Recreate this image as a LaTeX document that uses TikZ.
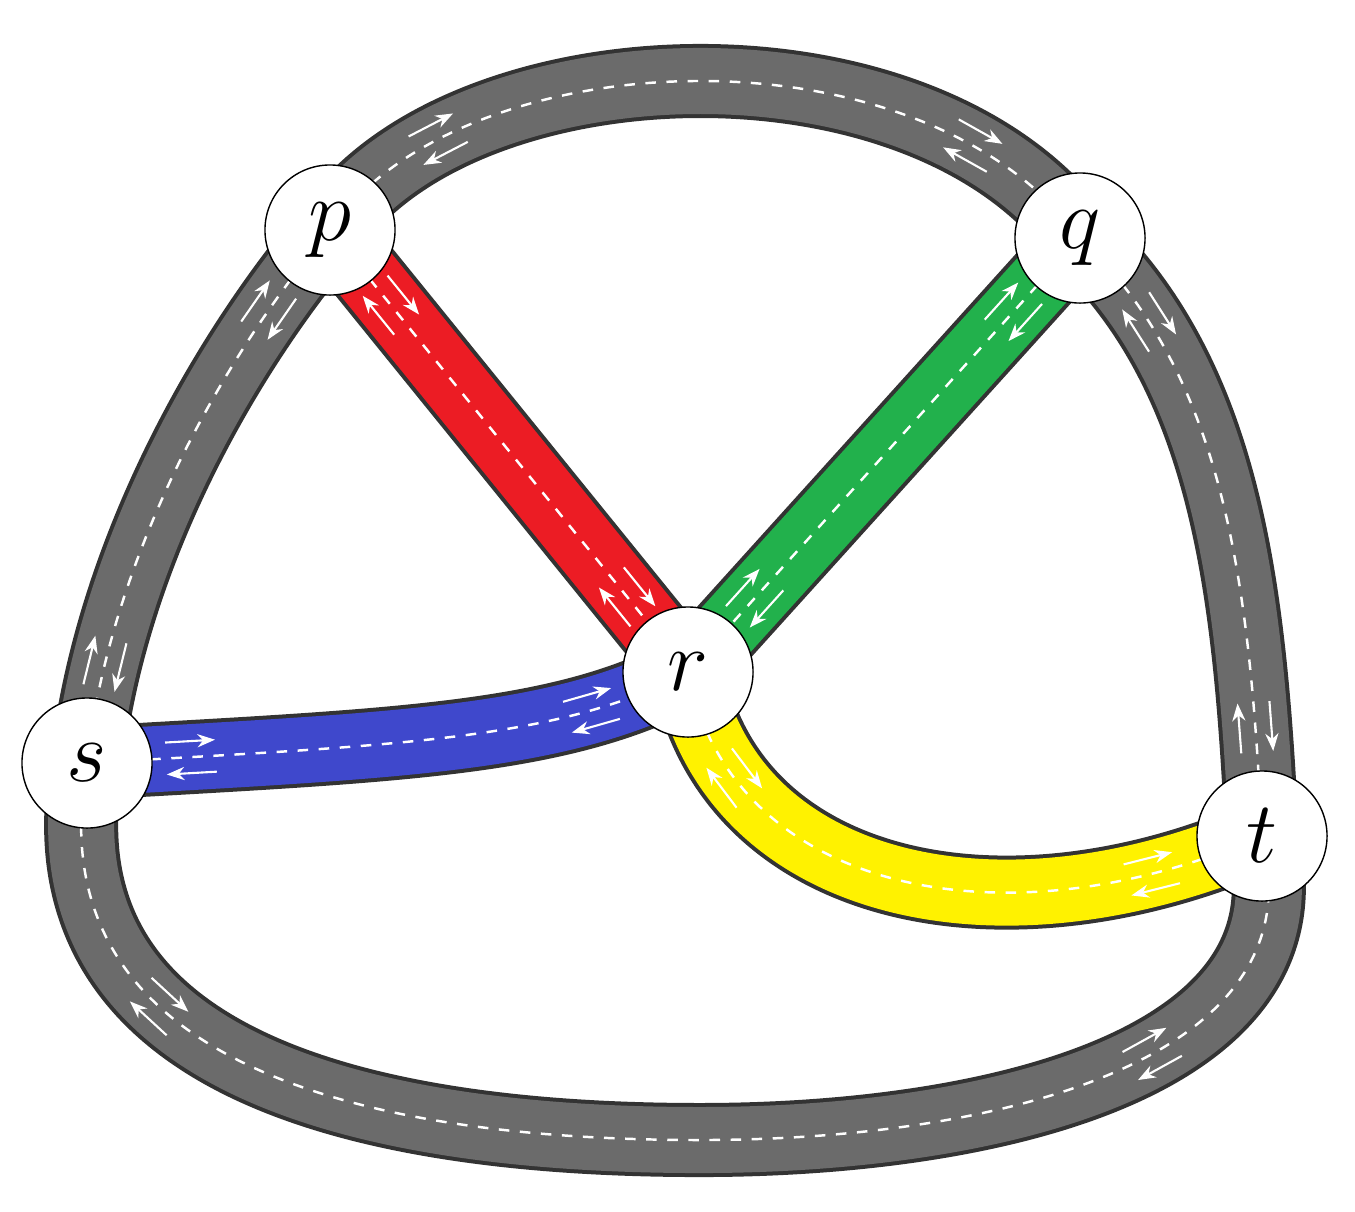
\documentclass[tikz,border=0pt]{standalone}
\usetikzlibrary{decorations.markings,arrows.meta}
\definecolor{roadgray}{HTML}{6B6B6B}
\definecolor{rred}{HTML}{EC1C24}
\definecolor{rgreen}{HTML}{22B14C}
\definecolor{rblue}{HTML}{3F48CC}
\definecolor{ryellow}{HTML}{FFF200}
\tikzset{
 town/.style={circle,draw=black,fill=white,minimum size=1.3cm,inner sep=0pt,font=\fontsize{26}{26}\selectfont},
 twoarr/.style={},
 arrs/.style={postaction={decorate,decoration={markings,
   mark=at position 0.17 with {\draw[white,solid,line width=0.6pt,-{Stealth[length=5pt]}] (-0.25cm,0.16cm)--(0.25cm,0.16cm); \draw[white,solid,line width=0.6pt,-{Stealth[length=5pt]}] (0.25cm,-0.16cm)--(-0.25cm,-0.16cm);},
   mark=at position 0.83 with {\draw[white,solid,line width=0.6pt,-{Stealth[length=5pt]}] (-0.25cm,0.16cm)--(0.25cm,0.16cm); \draw[white,solid,line width=0.6pt,-{Stealth[length=5pt]}] (0.25cm,-0.16cm)--(-0.25cm,-0.16cm);}}}}
}
\newcommand\Road[2]{\draw[line width=0.74cm,black!80] #2; \draw[line width=0.66cm,#1] #2; \draw[white,dashed,line width=0.7pt,arrs] #2;}
\begin{document}
\begin{tikzpicture}[x={(0.01cm,0)},y={(0,-0.01cm)}]
\useasboundingbox (0,0) rectangle (1355,1211);
\coordinate (P) at (330,230);
\coordinate (Q) at (1080,238);
\coordinate (R) at (688,672);
\coordinate (S) at (87,763);
\coordinate (T) at (1262,836);
\Road{roadgray}{(P) .. controls (460,40) and (920,20) .. (Q)}
\Road{roadgray}{(P) .. controls (220,360) and (110,560) .. (S)}
\Road{roadgray}{(Q) .. controls (1230,380) and (1250,600) .. (T)}
\Road{roadgray}{(S) .. controls (30,1080) and (400,1140) .. (700,1140) .. controls (1000,1140) and (1320,1060) .. (T)}
\Road{rred}{(P) -- (R)}
\Road{rgreen}{(Q) -- (R)}
\Road{rblue}{(S) .. controls (400,745) and (560,740) .. (R)}
\Road{ryellow}{(R) .. controls (730,890) and (1000,950) .. (T)}
\node[town] (p) at (P) {$p$};
\node[town] (q) at (Q) {$q$};
\node[town] (r) at (R) {$r$};
\node[town] (s) at (S) {$s$};
\node[town] (t) at (T) {$t$};
\end{tikzpicture}
\end{document}
